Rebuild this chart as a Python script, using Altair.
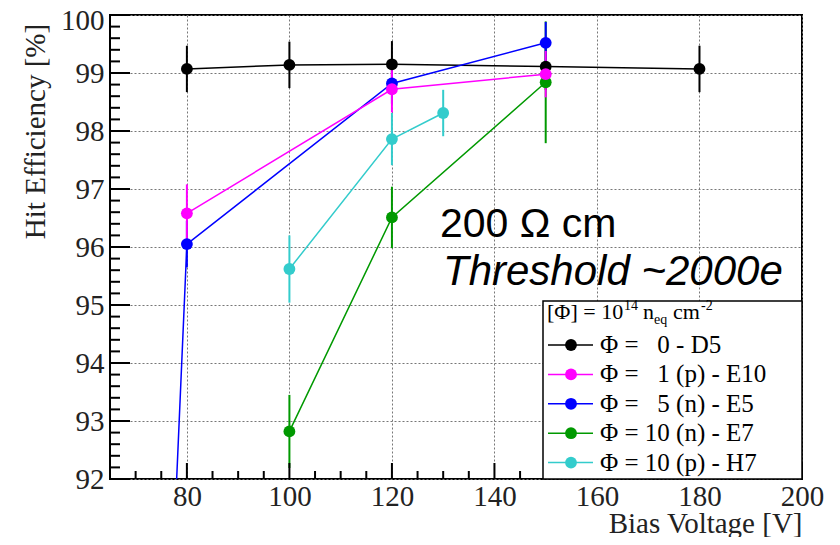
import altair as alt
import pandas as pd

# ---------------- data ----------------
series_names = ["D5", "E10", "E5", "E7", "H7"]
legend_labels = ["Φ = \u20070 - D5", "Φ = \u20071 (p) - E10", "Φ = \u20075 (n) - E5",
                 "Φ = 10 (n) - E7", "Φ = 10 (p) - H7"]
colors = ["#000000", "#ff00ff", "#0000ff", "#009900", "#33cccc"]

v_d5 = [80, 100, 120, 150, 180]
eff_d5 = [99.07, 99.14, 99.15, 99.11, 99.07]
err_d5 = [0.40, 0.40, 0.40, 0.40, 0.40]

v_e10 = [80, 120, 150]
eff_e10 = [96.58, 98.72, 98.98]
err_e10 = [0.50, 0.40, 0.40]

v_e5 = [75, 80, 120, 150]
eff_e5 = [85.9, 96.05, 98.82, 99.52]
err_e5 = [0.40, 0.40, 0.35, 0.36]

v_e7 = [100, 120, 150]
eff_e7 = [92.82, 96.51, 98.84]
err_e7 = [0.63, 0.53, 1.05]

v_h7 = [100, 120, 130]
eff_h7 = [95.62, 97.86, 98.31]
err_h7 = [0.58, 0.45, 0.40]

x_major = [80, 100, 120, 140, 160, 180, 200]
x_minor = [70, 75, 85, 90, 95, 105, 110, 115, 125, 130, 135, 145, 150, 155,
           165, 170, 175, 185, 190, 195]
y_major = [92, 93, 94, 95, 96, 97, 98, 99, 100]
y_minor = [round(92 + 0.2 * i, 1) for i in range(41) if i % 5 != 0]

# draw order: black, cyan, green, blue, magenta
rows = []
for name, vs, es, ers in [("D5", v_d5, eff_d5, err_d5), ("H7", v_h7, eff_h7, err_h7),
                          ("E7", v_e7, eff_e7, err_e7), ("E5", v_e5, eff_e5, err_e5),
                          ("E10", v_e10, eff_e10, err_e10)]:
    for v, e, er in zip(vs, es, ers):
        rows.append({"series": name, "V": v, "eff": e, "lo": e - er, "hi": e + er})
df = pd.DataFrame(rows)

# ---------------- scales / axes ----------------
W, H = 692, 464
xscale = alt.Scale(domain=[65, 200], nice=False, zero=False)
yscale = alt.Scale(domain=[92, 100], nice=False, zero=False)
xaxis = alt.Axis(values=x_major, title="Bias Voltage [V]", labelPadding=3, labelFlush=False,
                 titleX=W, titleY=53, titleAlign="right", titleBaseline="alphabetic")
yaxis = alt.Axis(values=y_major, title="Hit Efficiency [%]", labelPadding=6, labelFlush=False,
                 labelOffset={"condition": {"test": "datum.value == 100", "value": 5}, "value": 0},
                 titleX=-60, titleY=116, titleAngle=270, titleAlign="center",
                 titleBaseline="bottom")
cscale = alt.Scale(domain=series_names, range=colors)


def X(f):
    return alt.X(f"{f}:Q", scale=xscale, axis=xaxis)


def Y(f):
    return alt.Y(f"{f}:Q", scale=yscale, axis=yaxis)


col = alt.Color("series:N", scale=cscale, legend=None)

base = alt.Chart(df)
errbars = base.mark_rule(strokeWidth=2, clip=True).encode(x=X("V"), y=Y("lo"), y2="hi", color=col)
lines = base.mark_line(strokeWidth=1.5, clip=True).encode(
    x=X("V"), y=Y("eff"), color=col, order="V:Q")
points = base.mark_circle(size=140, opacity=1, clip=True).encode(x=X("V"), y=Y("eff"), color=col)

# inward ticks
ymaj = alt.Chart(pd.DataFrame({"eff": y_major})).mark_rule(color="black", strokeWidth=2).encode(
    y=Y("eff"), x=alt.value(0), x2=alt.value(20))
ymin = alt.Chart(pd.DataFrame({"eff": y_minor})).mark_rule(color="black", strokeWidth=2).encode(
    y=Y("eff"), x=alt.value(0), x2=alt.value(10))
xmaj = alt.Chart(pd.DataFrame({"V": x_major})).mark_rule(color="black", strokeWidth=2).encode(
    x=X("V"), y=alt.value(H), y2=alt.value(H - 16))
xmin = alt.Chart(pd.DataFrame({"V": x_minor})).mark_rule(color="black", strokeWidth=2).encode(
    x=X("V"), y=alt.value(H), y2=alt.value(H - 8))

# annotations
ann1 = alt.Chart(pd.DataFrame({"t": ["200 Ω cm"]})).mark_text(
    font="Liberation Sans", fontSize=41, align="left", baseline="alphabetic", color="black"
).encode(text="t:N", x=alt.value(330), y=alt.value(222))
ann2 = alt.Chart(pd.DataFrame({"t": ["Threshold ~2000e"]})).mark_text(
    font="Liberation Sans", fontSize=42, fontStyle="italic", align="left",
    baseline="alphabetic", color="black"
).encode(text="t:N", x=alt.value(333), y=alt.value(270))

# legend (drawn manually to mimic ROOT TLegend)
legbox = alt.Chart(pd.DataFrame({"a": [0]})).mark_rect(
    fill="white", stroke="black", strokeWidth=1.5
).encode(x=alt.value(433), x2=alt.value(692), y=alt.value(286), y2=alt.value(464))

title_parts = [("[Φ] = 10", 437, 304, 22), ("14", 514, 295, 14), ("n", 533, 304, 22),
               ("eq", 544, 309, 14), ("cm", 563, 304, 22), ("-2", 591, 295, 14)]
legtitle = []
for txt, px, py, fs in title_parts:
    legtitle.append(
        alt.Chart(pd.DataFrame({"t": [txt]})).mark_text(
            font="Liberation Serif", fontSize=fs, align="left", baseline="alphabetic", color="black"
        ).encode(text="t:N", x=alt.value(px), y=alt.value(py))
    )

legdf = pd.DataFrame({"series": series_names, "label": legend_labels,
                      "py": [330 + 29.4 * i for i in range(5)]})
legbase = alt.Chart(legdf)
legline = legbase.mark_rule(strokeWidth=1.5).encode(
    x=alt.value(438), x2=alt.value(483), y=alt.Y("py:Q", scale=None), color=col)
legdot = legbase.mark_circle(size=140, opacity=1).encode(
    x=alt.value(461), y=alt.Y("py:Q", scale=None), color=col)
legtext = legbase.mark_text(
    font="Liberation Serif", fontSize=25, align="left", baseline="middle", color="black"
).encode(x=alt.value(490), y=alt.Y("py:Q", scale=None), text="label:N")

chart = alt.layer(
    errbars, lines, points, ymaj, ymin, xmaj, xmin, ann1, ann2,
    legbox, *legtitle, legline, legdot, legtext
).properties(
    width=W, height=H,
    autosize=alt.AutoSizeParams(type="none"),
    padding={"left": 102, "top": 7, "right": 28, "bottom": 58},
).configure_axis(
    labelFont="Liberation Serif", labelFontSize=29, labelColor="#222",
    titleFont="Liberation Serif", titleFontSize=29, titleFontWeight="normal", titleColor="#222",
    grid=True, gridDash=[2, 2], gridColor="#777", gridWidth=1,
    domain=False, ticks=False,
).configure_view(stroke="black", strokeWidth=2)

chart.save("out.html", embed_options={"renderer": "svg", "actions": False})
